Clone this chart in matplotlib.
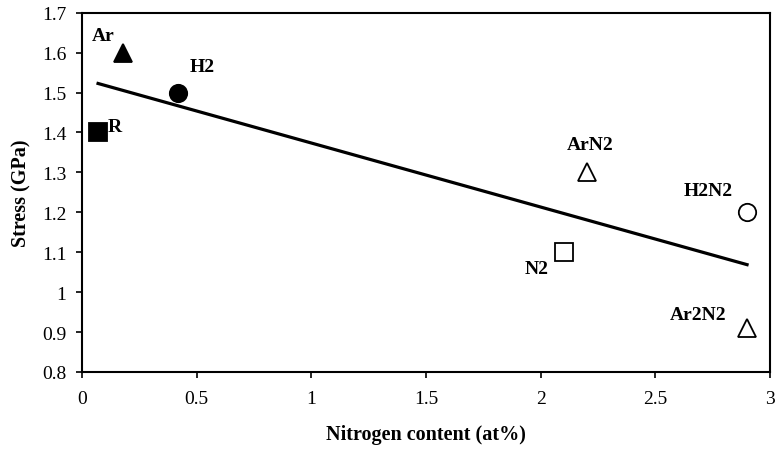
import numpy as np
import matplotlib.pyplot as plt

plt.rcParams['font.family'] = ['Liberation Serif', 'DejaVu Serif']

# samples: nitrogen content (at%) vs stress (GPa)
names = ['R', 'Ar', 'H2', 'N2', 'ArN2', 'H2N2', 'Ar2N2']
nitrogen = [0.07, 0.18, 0.42, 2.1, 2.2, 2.9, 2.9]
stress = [1.4, 1.6, 1.5, 1.1, 1.3, 1.2, 0.91]
markers = ['s', '^', 'o', 's', '^', 'o', '^']
filled = [True, True, True, False, False, False, False]

# where each label goes (data coords, left edge / vertical centre)
label_x = [0.113, 0.044, 0.471, 1.932, 2.115, 2.625, 2.564]
label_y = [1.415, 1.643, 1.565, 1.059, 1.369, 1.255, 0.945]

fig = plt.figure(figsize=(7.78, 4.52), dpi=100)
ax = fig.add_axes([0.1054, 0.1748, 0.8843, 0.795])

for x, y, m, f in zip(nitrogen, stress, markers, filled):
    ax.plot(x, y, marker=m, markersize=13 if m != 'o' else 12.5,
            markerfacecolor='black' if f else 'white',
            markeredgecolor='black', markeredgewidth=1.3, linestyle='none',
            zorder=3)

# linear fit over all samples
k, b = np.polyfit(nitrogen, stress, 1)
xf = np.array([min(nitrogen), max(nitrogen)])
ax.plot(xf, k * xf + b, color='black', linewidth=2.3, zorder=2)

for n, lx, ly in zip(names, label_x, label_y):
    ax.text(lx, ly, n, fontsize=14, fontweight='bold', ha='left', va='center')

ax.set_xlim(0, 3)
ax.set_ylim(0.8, 1.7)
ax.set_xticks(np.arange(0, 3.01, 0.5))
ax.set_xticklabels(['0', '0.5', '1', '1.5', '2', '2.5', '3'])
ax.set_yticks(np.arange(0.8, 1.71, 0.1))
ax.set_yticklabels(['0.8', '0.9', '1', '1.1', '1.2', '1.3', '1.4', '1.5', '1.6', '1.7'])
ax.tick_params(direction='out', length=4.3, width=1.2, labelsize=14)
ax.tick_params(axis='y', pad=7)
ax.tick_params(axis='x', pad=9)
for s in ax.spines.values():
    s.set_linewidth(1.5)

ax.set_xlabel('Nitrogen content (at%)', fontsize=14.5, fontweight='bold')
ax.set_ylabel('Stress (GPa)', fontsize=14.5, fontweight='bold')
ax.xaxis.set_label_coords(0.5, -0.145)
ax.yaxis.set_label_coords(-0.073, 0.5)

fig.savefig('out.png', dpi=100)
